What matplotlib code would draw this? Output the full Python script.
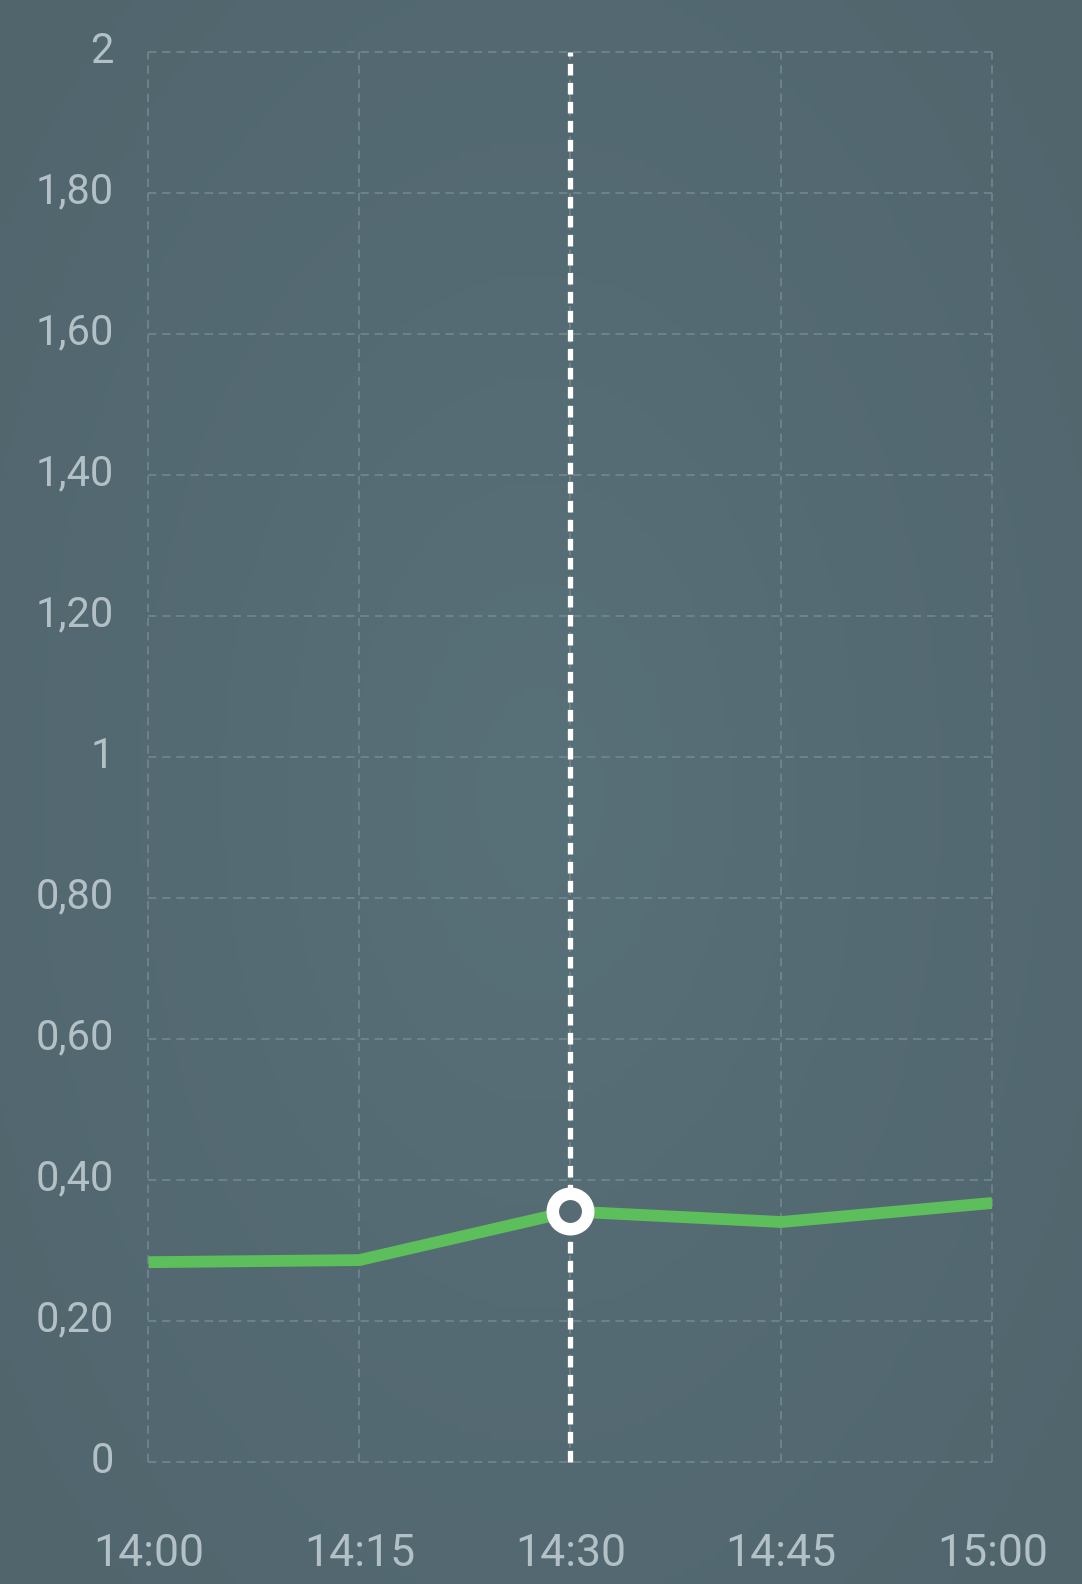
import numpy as np
import matplotlib
matplotlib.use('Agg')
import matplotlib.pyplot as plt
import matplotlib.transforms as mtransforms

# --- data ---
times = ['14:00', '14:15', '14:30', '14:45', '15:00']
minutes = [0, 15, 30, 45, 60]
values = [0.283, 0.286, 0.355, 0.340, 0.367]
y_ticks = [0, 0.2, 0.4, 0.6, 0.8, 1.0, 1.2, 1.4, 1.6, 1.8, 2.0]
y_labels = ['0', '0,20', '0,40', '0,60', '0,80', '1', '1,20', '1,40', '1,60', '1,80', '2']
selected = 2  # index of highlighted point (14:30)

bg = '#566b73'
text_c = '#b3c0c5'
grid_c = '#72878f'
green = '#5dbf5b'

plt.rcParams['font.family'] = ['Roboto', 'DejaVu Sans']

fig = plt.figure(figsize=(10.82, 15.84), dpi=100, facecolor=bg)

# soft radial background
bg_ax = fig.add_axes([0, 0, 1, 1], zorder=-10)
yy, xx = np.mgrid[-1:1:200j, -1:1:200j]
r = np.sqrt(xx**2 + (yy * 0.9)**2)
c_in = np.array([0x58, 0x70, 0x78]) / 255
c_out = np.array([0x51, 0x65, 0x6d]) / 255
t = np.clip(r / 1.3, 0, 1)[..., None]
bg_ax.imshow(c_in * (1 - t) + c_out * t, extent=[0, 1, 0, 1], aspect='auto')
bg_ax.axis('off')

ax = fig.add_axes([0.1372, 0.0772, 0.917 - 0.1372, 0.9674 - 0.0772])
ax.set_facecolor('none')
ax.set_xlim(minutes[0], minutes[-1])
ax.set_ylim(0, 2)
for s in ax.spines.values():
    s.set_visible(False)

ax.set_xticks(minutes)
ax.set_xticklabels(times)
ax.set_yticks(y_ticks)
ax.set_yticklabels(y_labels)
ax.tick_params(axis='x', length=0, pad=51, labelsize=32, labelcolor=text_c)
ax.tick_params(axis='y', length=0, pad=25, labelsize=30, labelcolor=text_c)

shift_up = mtransforms.ScaledTranslation(0, 0.05, fig.dpi_scale_trans)
for lab in ax.get_yticklabels():
    lab.set_transform(lab.get_transform() + shift_up)

for m in minutes:
    ax.axvline(m, color=grid_c, lw=1.2, ls=(0, (5, 3.5)), zorder=1, clip_on=False)
for v in y_ticks:
    ax.axhline(v, color=grid_c, lw=1.2, ls=(0, (5, 3.5)), zorder=1, clip_on=False)

ax.plot(minutes, values, color=green, lw=8.5, solid_capstyle='butt',
        solid_joinstyle='round', zorder=3)

ax.plot([minutes[selected], minutes[selected]], [0, 2], color='white', lw=3.8,
        ls=(0, (2.2, 1.4)), zorder=4, clip_on=False)
ax.plot(minutes[selected], values[selected], 'o', ms=25.5, mew=9,
        mec='white', mfc=bg, zorder=5, clip_on=False)

fig.savefig('out.png', dpi=100, facecolor=bg)
